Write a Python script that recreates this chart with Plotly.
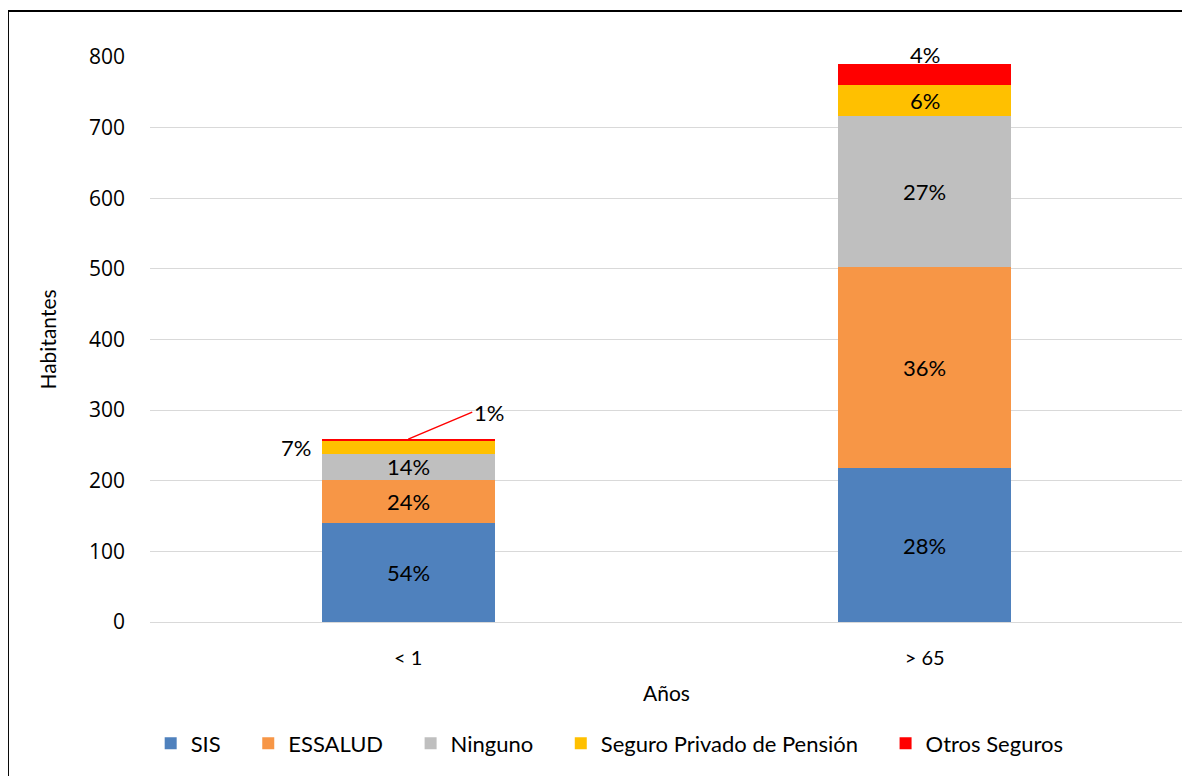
import plotly.graph_objects as go

categories = ["< 1", "> 65"]
sis = [140, 218]
essalud = [61, 284]
ninguno = [37, 215]
privado = [18, 44]
otros = [3, 29]

series_names = ["SIS", "ESSALUD", "Ninguno", "Seguro Privado de Pensión", "Otros Seguros"]
series_values = [sis, essalud, ninguno, privado, otros]
colors = ["#4F81BD", "#F79646", "#BFBFBF", "#FFC000", "#FF0000"]

FONT = "Lato, sans-serif"
NB = "\u00a0" * 4

totals = [sum(v[i] for v in series_values) for i in range(len(categories))]

fig = go.Figure()
for k, (name, vals, col) in enumerate(zip(series_names, series_values, colors)):
    fig.add_trace(go.Bar(
        name=name + (NB if k < len(series_names) - 1 else ""), x=categories, y=vals,
        marker=dict(color=col, line=dict(width=0)),
        width=0.334, hoverinfo="skip",
    ))

# percentage labels
annotations = []
lblfont = dict(size=22, family=FONT, color="#000")
for i, cat in enumerate(categories):
    base = 0
    for s, (name, vals) in enumerate(zip(series_names, series_values)):
        v = vals[i]
        pct = f"{round(100 * v / totals[i])}%"
        mid = base + v / 2
        if i == 0 and s == 3:
            annotations.append(dict(x=cat, y=mid, text=pct, showarrow=False,
                                    xanchor="right", xshift=-95, font=lblfont))
        elif i == 0 and s == 4:
            annotations.append(dict(x=cat, y=base + v, text=pct, showarrow=True, arrowhead=0,
                                    arrowcolor="#FF0000", arrowwidth=1.5, ax=64, ay=-27,
                                    xanchor="left", font=lblfont))
        elif i == 1 and s == 4:
            annotations.append(dict(x=cat, y=base + v, text=pct, showarrow=False,
                                    yanchor="middle", yshift=10, font=lblfont))
        else:
            annotations.append(dict(x=cat, y=mid, text=pct, showarrow=False, font=lblfont))
        base += v

fig.update_layout(
    barmode="stack",
    width=1190, height=776,
    margin=dict(l=142, r=15, t=49, b=162),
    paper_bgcolor="white", plot_bgcolor="white",
    font=dict(family=FONT, size=20, color="#000"),
    xaxis=dict(type="category", range=[-0.5, 1.5], showgrid=False, showline=False,
               ticks="", ticklabelstandoff=22, tickfont=dict(size=20, family=FONT),
               title=dict(text="Años", font=dict(size=21, family=FONT), standoff=18)),
    yaxis=dict(range=[0, 800], dtick=100, showgrid=True, gridcolor="#D9D9D9", gridwidth=1,
               zeroline=True, zerolinecolor="#D9D9D9", zerolinewidth=1, showline=False,
               ticks="", ticklabelstandoff=24,
               tickfont=dict(size=21, family="Open Sans, sans-serif"),
               title=dict(text="Habitantes", font=dict(size=21, family=FONT), standoff=26)),
    legend=dict(orientation="h", x=0.445, xanchor="center", y=-0.178, yanchor="top",
                font=dict(size=22, family=FONT), tracegroupgap=0, traceorder="normal"),
    annotations=annotations,
    shapes=[dict(type="rect", xref="paper", yref="paper", x0=-0.1375, x1=1.02, y0=-0.29, y1=1.0814,
                 line=dict(color="#000", width=2), fillcolor="rgba(0,0,0,0)", layer="below")],
)
fig.update_traces(cliponaxis=False)

fig.write_html("out.html")
